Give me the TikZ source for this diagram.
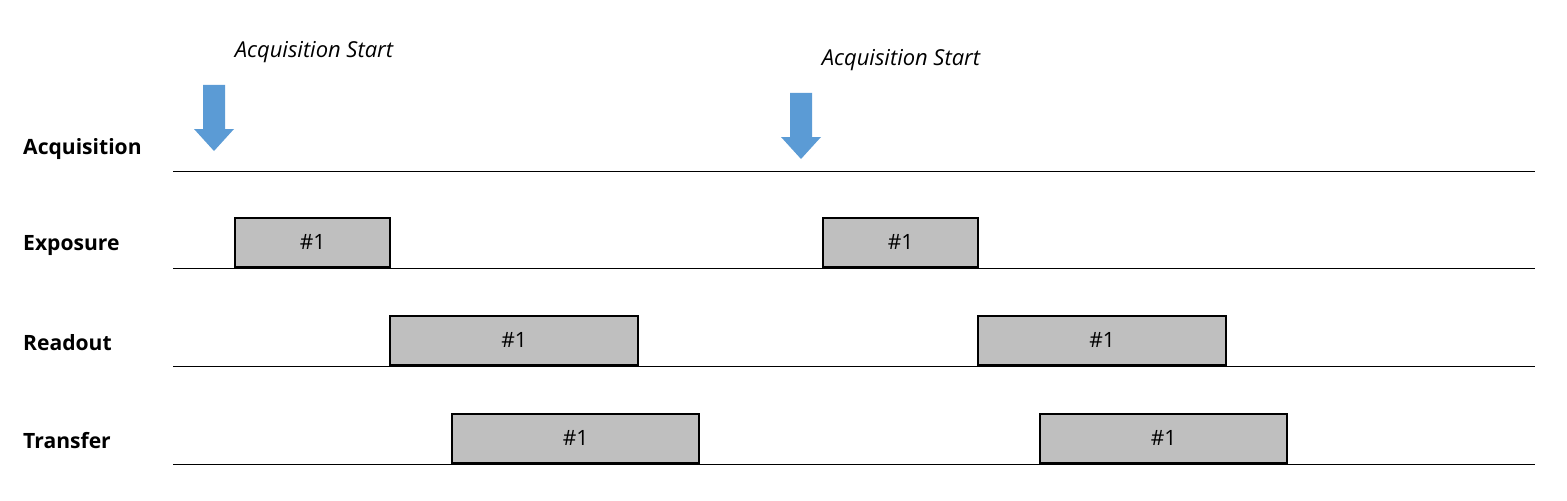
\documentclass[tikz,border=0pt]{standalone}
\usepackage{fontspec}
\setmainfont{Open Sans}
\definecolor{startblue}{HTML}{5B9BD5}
\definecolor{slotgray}{HTML}{BFBFBF}
\tikzset{
	rowlabel/.style={anchor=west, font=\bfseries\fontsize{12}{14}\selectfont},
	slot/.style={draw, line width=1.3pt, fill=slotgray, inner sep=0pt, minimum height=0.98cm, font=\fontsize{12}{14}\selectfont},
	startlabel/.style={font=\itshape\fontsize{12.5}{15}\selectfont}
}
\newcommand\startarrow[2]{% x, top y
	\fill[startblue] (#1-11,#2) -- (#1+11,#2) -- (#1+11,#2+44) -- (#1+20,#2+44)
		-- (#1,#2+66) -- (#1-20,#2+44) -- (#1-11,#2+44) -- cycle;}
\begin{document}
\begin{tikzpicture}[x=0.02cm, y=-0.02cm]
	\useasboundingbox (0,0) rectangle (1567,500);
	
	%row labels and time lines
	\node[rowlabel] (acq) at (17,149) {Acquisition};
	\node[rowlabel] (exp) at (17,246) {Exposure};
	\node[rowlabel] (rd) at (17,343) {Readout};
	\node[rowlabel] (tr) at (17,441) {Transfer};
	\foreach \y in {171,268,366,464}
		\draw (173,\y) -- (1535,\y);
	
	%acquisition start arrows
	\startarrow{214}{85}
	\startarrow{801}{93}
	\node[startlabel] (l1) at (314,52) {Acquisition Start};
	\node[startlabel] (l2) at (901,60) {Acquisition Start};
	
	%frames
	\foreach \x/\n in {234/a,822/b} {
		\node[slot, anchor=south west, minimum width=3.1cm] (exp\n) at (\x,268) {\#1};
		\node[slot, anchor=south west, minimum width=4.96cm] (rd\n) at (\x+155,366) {\#1};
		\node[slot, anchor=south west, minimum width=4.94cm] (tr\n) at (\x+217,464) {\#1};
	}

\end{tikzpicture}
\end{document}
